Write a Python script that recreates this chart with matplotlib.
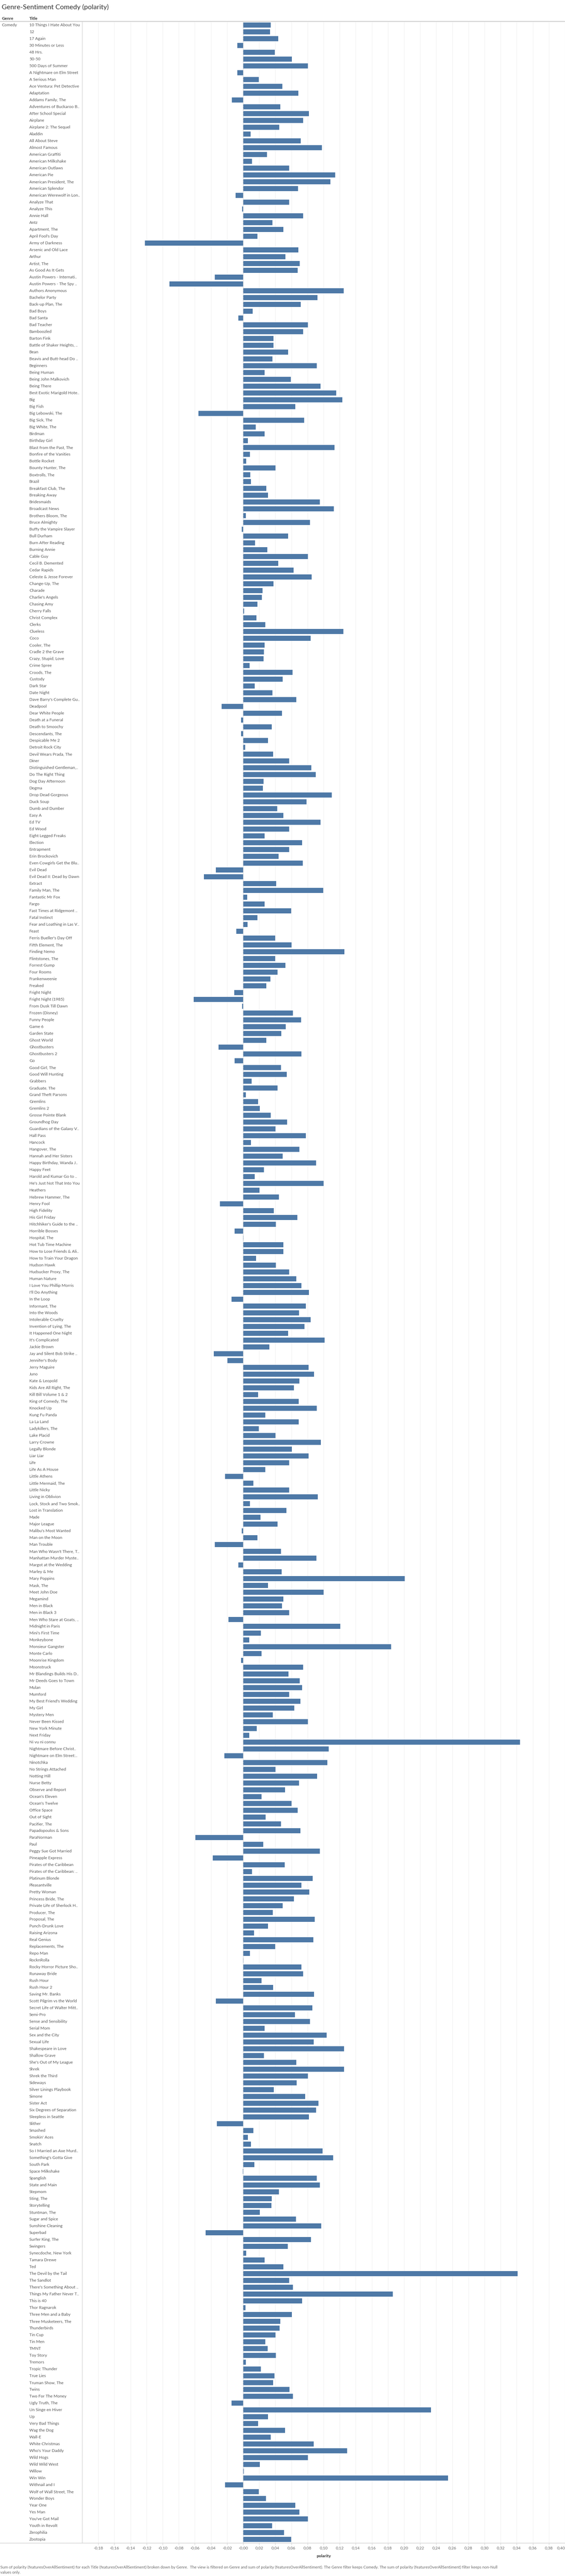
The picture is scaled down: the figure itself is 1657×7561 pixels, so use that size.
import numpy as np
import matplotlib
matplotlib.use('Agg')
import matplotlib.pyplot as plt
from matplotlib.lines import Line2D
from matplotlib.transforms import blended_transform_factory

# titles as shown (Tableau already truncates long ones)
titles = [
    "10 Things I Hate About You", "12", "17 Again", "30 Minutes or Less", "48 Hrs.", "50-50",
    "500 Days of Summer", "A Nightmare on Elm Street", "A Serious Man", "Ace Ventura: Pet Detective",
    "Adaptation", "Addams Family, The", "Adventures of Buckaroo B..", "After School Special",
    "Airplane", "Airplane 2: The Sequel", "Aladdin", "All About Steve", "Almost Famous",
    "American Graffiti", "American Milkshake", "American Outlaws", "American Pie",
    "American President, The", "American Splendor", "American Werewolf in Lon..", "Analyze That",
    "Analyze This", "Annie Hall", "Antz", "Apartment, The", "April Fool's Day", "Army of Darkness",
    "Arsenic and Old Lace", "Arthur", "Artist, The", "As Good As It Gets",
    "Austin Powers - Internati..", "Austin Powers - The Spy ..", "Authors Anonymous",
    "Bachelor Party", "Back-up Plan, The", "Bad Boys", "Bad Santa", "Bad Teacher", "Bamboozled",
    "Barton Fink", "Battle of Shaker Heights, ..", "Bean", "Beavis and Butt-head Do ..",
    "Beginners", "Being Human", "Being John Malkovich", "Being There",
    "Best Exotic Marigold Hote..", "Big", "Big Fish", "Big Lebowski, The", "Big Sick, The",
    "Big White, The", "Birdman", "Birthday Girl", "Blast from the Past, The",
    "Bonfire of the Vanities", "Bottle Rocket", "Bounty Hunter, The", "Boxtrolls, The", "Brazil",
    "Breakfast Club, The", "Breaking Away", "Bridesmaids", "Broadcast News", "Brothers Bloom, The",
    "Bruce Almighty", "Buffy the Vampire Slayer", "Bull Durham", "Burn After Reading",
    "Burning Annie", "Cable Guy", "Cecil B. Demented", "Cedar Rapids", "Celeste & Jesse Forever",
    "Change-Up, The", "Charade", "Charlie's Angels", "Chasing Amy", "Cherry Falls",
    "Christ Complex", "Clerks", "Clueless", "Coco", "Cooler, The", "Cradle 2 the Grave",
    "Crazy, Stupid, Love", "Crime Spree", "Croods, The", "Custody", "Dark Star", "Date Night",
    "Dave Barry's Complete Gu..", "Deadpool", "Dear White People", "Death at a Funeral",
    "Death to Smoochy", "Descendants, The", "Despicable Me 2", "Detroit Rock City",
    "Devil Wears Prada, The", "Diner", "Distinguished Gentleman,..", "Do The Right Thing",
    "Dog Day Afternoon", "Dogma", "Drop Dead Gorgeous", "Duck Soup", "Dumb and Dumber", "Easy A",
    "Ed TV", "Ed Wood", "Eight Legged Freaks", "Election", "Entrapment", "Erin Brockovich",
    "Even Cowgirls Get the Blu..", "Evil Dead", "Evil Dead II: Dead by Dawn", "Extract",
    "Family Man, The", "Fantastic Mr Fox", "Fargo", "Fast Times at Ridgemont ..",
    "Fatal Instinct", "Fear and Loathing in Las V..", "Feast", "Ferris Bueller's Day Off",
    "Fifth Element, The", "Finding Nemo", "Flintstones, The", "Forrest Gump", "Four Rooms",
    "Frankenweenie", "Freaked", "Fright Night", "Fright Night (1985)", "From Dusk Till Dawn",
    "Frozen (Disney)", "Funny People", "Game 6", "Garden State", "Ghost World", "Ghostbusters",
    "Ghostbusters 2", "Go", "Good Girl, The", "Good Will Hunting", "Grabbers", "Graduate, The",
    "Grand Theft Parsons", "Gremlins", "Gremlins 2", "Grosse Pointe Blank", "Groundhog Day",
    "Guardians of the Galaxy V..", "Hall Pass", "Hancock", "Hangover, The",
    "Hannah and Her Sisters", "Happy Birthday, Wanda J..", "Happy Feet",
    "Harold and Kumar Go to ..", "He's Just Not That Into You", "Heathers", "Hebrew Hammer, The",
    "Henry Fool", "High Fidelity", "His Girl Friday", "Hitchhiker's Guide to the ..",
    "Horrible Bosses", "Hospital, The", "Hot Tub Time Machine", "How to Lose Friends & Ali..",
    "How to Train Your Dragon", "Hudson Hawk", "Hudsucker Proxy, The", "Human Nature",
    "I Love You Phillip Morris", "I'll Do Anything", "In the Loop", "Informant, The",
    "Into the Woods", "Intolerable Cruelty", "Invention of Lying, The", "It Happened One Night",
    "It's Complicated", "Jackie Brown", "Jay and Silent Bob Strike ..", "Jennifer's Body",
    "Jerry Maguire", "Juno", "Kate & Leopold", "Kids Are All Right, The", "Kill Bill Volume 1 & 2",
    "King of Comedy, The", "Knocked Up", "Kung Fu Panda", "La La Land", "Ladykillers, The",
    "Lake Placid", "Larry Crowne", "Legally Blonde", "Liar Liar", "Life", "Life As A House",
    "Little Athens", "Little Mermaid, The", "Little Nicky", "Living in Oblivion",
    "Lock, Stock and Two Smok..", "Lost in Translation", "Made", "Major League",
    "Malibu's Most Wanted", "Man on the Moon", "Man Trouble", "Man Who Wasn't There, T..",
    "Manhattan Murder Myste..", "Margot at the Wedding", "Marley & Me", "Mary Poppins",
    "Mask, The", "Meet John Doe", "Megamind", "Men in Black", "Men in Black 3",
    "Men Who Stare at Goats, ..", "Midnight in Paris", "Mini's First Time", "Monkeybone",
    "Monsieur Gangster", "Monte Carlo", "Moonrise Kingdom", "Moonstruck",
    "Mr Blandings Builds His D..", "Mr Deeds Goes to Town", "Mulan", "Mumford",
    "My Best Friend's Wedding", "My Girl", "Mystery Men", "Never Been Kissed", "New York Minute",
    "Next Friday", "Ni vu ni connu", "Nightmare Before Christ..", "Nightmare on Elm Street:..",
    "Ninotchka", "No Strings Attached", "Notting Hill", "Nurse Betty", "Observe and Report",
    "Ocean's Eleven", "Ocean's Twelve", "Office Space", "Out of Sight", "Pacifier, The",
    "Papadopoulos & Sons", "ParaNorman", "Paul", "Peggy Sue Got Married", "Pineapple Express",
    "Pirates of the Caribbean", "Pirates of the Caribbean: ..", "Platinum Blonde",
    "Pleasantville", "Pretty Woman", "Princess Bride, The", "Private Life of Sherlock H..",
    "Producer, The", "Proposal, The", "Punch-Drunk Love", "Raising Arizona", "Real Genius",
    "Replacements, The", "Repo Man", "RocknRolla", "Rocky Horror Picture Sho..", "Runaway Bride",
    "Rush Hour", "Rush Hour 2", "Saving Mr. Banks", "Scott Pilgrim vs the World",
    "Secret Life of Walter Mitt..", "Semi-Pro", "Sense and Sensibility", "Serial Mom",
    "Sex and the City", "Sexual Life", "Shakespeare in Love", "Shallow Grave",
    "She's Out of My League", "Shrek", "Shrek the Third", "Sideways", "Silver Linings Playbook",
    "Simone", "Sister Act", "Six Degrees of Separation", "Sleepless in Seattle", "Slither",
    "Smashed", "Smokin' Aces", "Snatch", "So I Married an Axe Murd..", "Something's Gotta Give",
    "South Park", "Space Milkshake", "Spanglish", "State and Main", "Stepmom", "Sting, The",
    "Storytelling", "Stuntman, The", "Sugar and Spice", "Sunshine Cleaning", "Superbad",
    "Surfer King, The", "Swingers", "Synecdoche, New York", "Tamara Drewe", "Ted",
    "The Devil by the Tail", "The Sandlot", "There's Something About ..",
    "Things My Father Never T..", "This is 40", "Thor Ragnarok", "Three Men and a Baby",
    "Three Musketeers, The", "Thunderbirds", "Tin Cup", "Tin Men", "TMNT", "Toy Story", "Tremors",
    "Tropic Thunder", "True Lies", "Truman Show, The", "Twins", "Two For The Money",
    "Ugly Truth, The", "Un Singe en Hiver", "Up", "Very Bad Things", "Wag the Dog", "Wall-E",
    "White Christmas", "Who's Your Daddy", "Wild Hogs", "Wild Wild West", "Willow", "Win Win",
    "Withnail and I", "Wolf of Wall Street, The", "Wonder Boys", "Year One", "Yes Man",
    "You've Got Mail", "Youth in Revolt", "Zerophilia", "Zootopia",
]

polarity = [
    0.0345, 0.0336, 0.0435, -0.0072, 0.0395, 0.0605, 0.0803, -0.0072, 0.0197, 0.0489,
    0.0686, -0.0139, 0.0462, 0.0816, 0.0744, 0.0448, 0.0094, 0.0717, 0.0978, 0.0296,
    0.0112, 0.0574, 0.1143, 0.1085, 0.0682, -0.0094, 0.0570, -0.0013, 0.0744, 0.0363,
    0.0498, 0.0179, -0.1220, 0.0686, 0.0525, 0.0704, 0.0677, -0.0350, -0.0915, 0.1251,
    0.0924, 0.0717, 0.0117, -0.0058, 0.0807, 0.0744, 0.0377, 0.0377, 0.0561, 0.0363,
    0.0915, 0.0265, 0.0592, 0.0960, 0.1157, 0.1233, 0.0650, -0.0556, 0.0758, 0.0157,
    0.0269, 0.0058, 0.1135, 0.0085, 0.0040, 0.0404, 0.0090, 0.0099, 0.0287, 0.0309,
    0.0955, 0.1126, 0.0036, 0.0830, -0.0018, 0.0561, 0.0148, 0.0300, 0.0807, 0.0435,
    0.0628, 0.0852, 0.0377, 0.0242, 0.0233, 0.0179, 0.0013, 0.0166, 0.0274, 0.1247,
    0.0839, 0.0269, 0.0260, 0.0256, 0.0081, 0.0614, 0.0493, 0.0143, 0.0363, 0.0659,
    -0.0269, 0.0484, -0.0027, 0.0354, -0.0027, 0.0309, 0.0027, 0.0372, 0.0574, 0.0848,
    0.0901, 0.0256, 0.0247, 0.1103, 0.0789, 0.0422, 0.0498, 0.0960, 0.0574, 0.0269,
    0.0731, 0.0574, 0.0439, 0.0740, -0.0341, -0.0489, 0.0413, 0.0996, 0.0049, 0.0269,
    0.0596, 0.0179, 0.0054, -0.0085, 0.0399, 0.0601, 0.1260, 0.0399, 0.0525, 0.0430,
    0.0341, 0.0287, -0.0112, -0.0614, -0.0013, 0.0619, 0.0722, 0.0529, 0.0475, 0.0287,
    -0.0305, 0.0726, -0.0108, 0.0471, 0.0543, 0.0108, 0.0426, 0.0036, 0.0188, 0.0206,
    0.0345, 0.0547, 0.0404, 0.0780, 0.0099, 0.0700, 0.0493, 0.0906, 0.0260, 0.0143,
    0.1000, 0.0202, 0.0444, -0.0287, 0.0381, 0.0673, 0.0408, -0.0108, 0.0005, 0.0502,
    0.0498, 0.0161, 0.0408, 0.0570, 0.0659, 0.0726, 0.0816, -0.0143, 0.0780, 0.0695,
    0.0839, 0.0762, 0.0561, 0.1013, 0.0327, -0.0363, -0.0193, 0.0812, 0.0883, 0.0700,
    0.0632, 0.0188, 0.0691, 0.0915, 0.0274, 0.0691, 0.0197, 0.0404, 0.0964, 0.0605,
    0.0812, 0.0574, 0.0274, -0.0224, 0.0126, 0.0574, 0.0928, 0.0085, 0.0538, 0.0215,
    0.0426, -0.0018, 0.0179, -0.0350, 0.0471, 0.0910, -0.0058, 0.0480, 0.2009, 0.0309,
    0.1000, 0.0502, 0.0484, 0.0574, -0.0184, 0.1206, 0.0220, 0.0076, 0.1839, 0.0229,
    -0.0027, 0.0744, 0.0565, 0.0704, 0.0735, 0.0574, 0.0713, 0.0637, 0.0368, 0.0803,
    0.0170, 0.0076, 0.3439, 0.1063, -0.0233, 0.1045, 0.0404, 0.0919, 0.0695, 0.0520,
    0.0229, 0.0601, 0.0677, 0.0278, 0.0471, 0.0713, -0.0592, 0.0251, 0.0955, -0.0377,
    0.0516, 0.0112, 0.0865, 0.0726, 0.0821, 0.0632, 0.0493, 0.0368, 0.0888, 0.0309,
    0.0135, 0.0874, 0.0399, 0.0085, 0.0004, 0.0726, 0.0744, 0.0229, 0.0372, 0.0883,
    -0.0341, 0.0861, 0.0646, 0.0830, 0.0269, 0.1040, 0.0879, 0.1256, 0.0260, 0.0659,
    0.1256, 0.0803, 0.0664, 0.0381, 0.0771, 0.0937, 0.0906, 0.0816, -0.0327, 0.0126,
    0.0058, 0.0099, 0.0987, 0.1117, 0.0139, -0.0005, 0.0915, 0.0955, 0.0444, 0.0354,
    0.0350, 0.0206, 0.0655, 0.0969, -0.0466, 0.0843, 0.0556, 0.0040, 0.0265, 0.0502,
    0.3413, 0.0574, 0.0619, 0.1861, 0.0731, 0.0031, 0.0605, 0.0462, 0.0453, 0.0404,
    0.0274, 0.0305, 0.0408, 0.0036, 0.0220, 0.0390, 0.0372, 0.0578, 0.0619, -0.0143,
    0.2336, 0.0309, 0.0188, 0.0520, 0.0345, 0.0879, 0.1291, 0.0807, 0.0206, 0.0009,
    0.2547, -0.0224, 0.0193, 0.0283, 0.0650, 0.0700, 0.0807, 0.0359, 0.0507, 0.0596,
]

genre = "Comedy"
chart_title = "Genre-Sentiment Comedy (polarity)"
caption = ("Sum of polarity (featuresOverAllSentiment) for each Title (featuresOverAllSentiment) "
           "broken down by Genre.  The view is filtered on Genre and sum of polarity "
           "(featuresOverAllSentiment). The Genre filter keeps Comedy. The sum of polarity "
           "(featuresOverAllSentiment) filter keeps non-Null\nvalues only.")

plt.rcParams['font.family'] = ['Lato', 'DejaVu Sans']

W, H = 1657, 7561
fig = plt.figure(figsize=(W / 100, H / 100), dpi=100)

def fy(py):
    return 1 - py / H

ax_left, ax_top, ax_bot = 241, 63.5, 7463.5
ax = fig.add_axes([ax_left / W, fy(ax_bot), (W - ax_left) / W, (ax_bot - ax_top) / H])

y = np.arange(len(titles))
ax.barh(y, polarity, height=0.72, color='#4e79a7', zorder=3)
ax.set_ylim(len(titles) - 0.5, -0.5)
ax.set_xlim(-0.2, 0.4)

ticks = np.round(np.arange(-0.18, 0.401, 0.02), 2)
ax.set_xticks(ticks)
ax.set_xticklabels([f"{t:.2f}".replace('.', ',') for t in ticks], fontsize=8.6, color='#666666')
ax.get_xticklabels()[-1].set_ha('right')
ax.tick_params(axis='x', length=4, width=0.8, color='#d0d0d0', pad=3)
ax.set_yticks([])
ax.grid(axis='x', color='#f0f0f0', lw=1, zorder=0)
ax.axvline(0, color='#c8c8c8', lw=0.9, ls=(0, (2, 2)), zorder=4)

for s in ['top', 'right', 'bottom']:
    ax.spines[s].set_visible(False)
ax.spines['left'].set_color('#d0d0d0')
ax.spines['left'].set_linewidth(1)

# header / axis rules across the whole width
fig.add_artist(Line2D([0, 1], [fy(63), fy(63)], transform=fig.transFigure, color='#c8c8c8', lw=1.5))
fig.add_artist(Line2D([0, 1], [fy(ax_bot), fy(ax_bot)], transform=fig.transFigure, color='#c8c8c8', lw=1))

# row labels
tr = blended_transform_factory(fig.transFigure, ax.transData)
for i, t in enumerate(titles):
    fig.text(86 / W, i, t, transform=tr, fontsize=8.7, color='#555555', va='center', ha='left')
fig.text(5 / W, 0, genre, transform=tr, fontsize=8.7, color='#555555', va='center', ha='left')

fig.text(5 / W, fy(21), chart_title, fontsize=14.5, color='#333333', va='center')
fig.text(5 / W, fy(54), "Genre", fontsize=8.9, color='#333333', va='center', fontweight='bold')
fig.text(86 / W, fy(54), "Title", fontsize=8.9, color='#333333', va='center', fontweight='bold')

fig.text((ax_left + W) / 2 / W, fy(7503), "polarity", fontsize=8.9, color='#333333',
         va='center', ha='center', fontweight='bold')
fig.text(1 / W, fy(7543), caption, fontsize=8.3, color='#666666', va='center', ha='left',
         linespacing=1.45)

fig.savefig('out.png', dpi=100)
